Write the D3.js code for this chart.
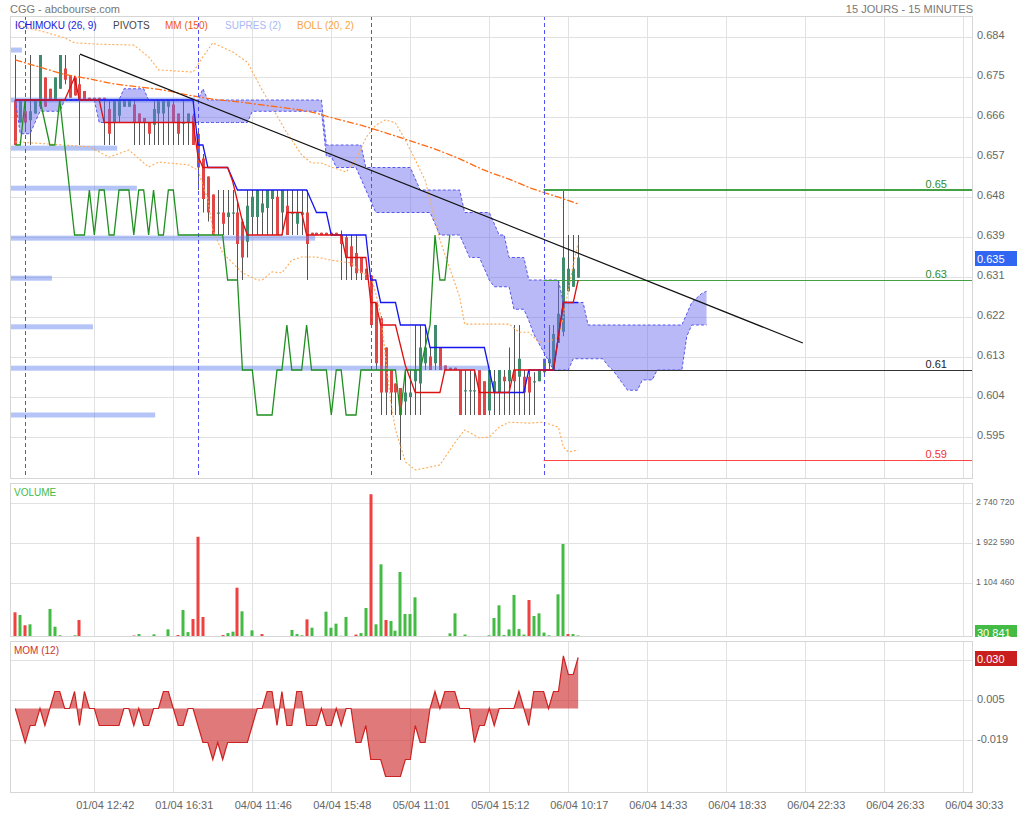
<!DOCTYPE html>
<html><head><meta charset="utf-8">
<script src="https://cdn.jsdelivr.net/npm/d3@7/dist/d3.min.js"></script>
<style>
html,body{margin:0;padding:0;background:#fff;}
svg{display:block;font-family:"Liberation Sans",Arial,Helvetica,sans-serif;}
</style></head><body>
<svg id="chart" width="1017" height="814"></svg>
<script>
// ---------------- DATA ----------------
const opens=[.67,.665,.6675,.6655,.667,.6685,.675,.6725,.67,.6725,
.677,.6755,.675,.6735,.672,.6705,.6705,.6705,.6705,.668,
.665,.6665,.6685,.6685,.669,.667,.666,.665,.6645,.667,
.667,.6685,.669,.667,.665,.665,.6665,.6625,.657,.653,
.649,.645,.645,.644,.645,.645,.643,.6385,.644,.644,
.645,.646,.648,.6485,.645,.6465,.645,.6425,.6445,.645,
.6405,.6405,.6405,.6405,.6405,.6405,.64,.6395,.6375,.636,
.635,.6325,.631,.625,.6215,.615,.61,.607,.606,.603,
.604,.6075,.607,.6115,.613,.6115,.615,.611,.6105,.6105,
.61,.6055,.6055,.6055,.61,.6075,.601,.605,.605,.6085,
.6075,.61,.6085,.6085,.6085,.6075,.6075,.6095,.6115,.61,
.616,.6185,.6275,.6285,.6305];
const highs=[.68,.67,.67,.68,.67,.68,.675,.6725,.675,.68,
.68,.6755,.675,.68,.672,.6705,.6705,.6705,.6705,.67,
.67,.67,.67,.67,.67,.667,.666,.665,.67,.67,
.67,.67,.67,.667,.67,.667,.667,.663,.658,.653,
.649,.65,.65,.65,.65,.6475,.6435,.65,.65,.65,
.65,.65,.65,.65,.65,.65,.65,.65,.65,.65,
.6405,.6405,.6405,.6405,.6405,.6405,.641,.64,.64,.64,
.635,.6325,.631,.625,.622,.615,.61,.607,.606,.61,
.61,.62,.62,.62,.615,.62,.615,.611,.6105,.6105,
.61,.61,.61,.61,.61,.6075,.61,.61,.61,.61,
.615,.62,.62,.61,.61,.6095,.61,.6125,.62,.62,
.63,.65,.64,.64,.64];
const lows=[.66,.665,.663,.66,.667,.668,.6685,.67,.67,.6725,
.6735,.6705,.671,.66,.67,.67,.67,.67,.66,.66,
.66,.665,.6685,.6685,.66,.66,.66,.66,.66,.66,
.66,.66,.66,.66,.66,.66,.66,.65,.645,.643,
.64,.64,.64,.64,.64,.63,.63,.635,.64,.64,
.64,.64,.64,.64,.64,.64,.64,.64,.64,.63,
.64,.64,.64,.64,.64,.64,.63,.63,.63,.63,
.63,.63,.62,.61,.60,.60,.60,.60,.59,.60,
.60,.60,.60,.61,.61,.61,.61,.61,.61,.61,
.60,.60,.60,.60,.60,.60,.60,.60,.60,.60,
.60,.60,.60,.60,.60,.60,.6075,.609,.61,.61,
.616,.6175,.6275,.6285,.6305];
const closes=[.66,.67,.665,.6675,.67,.68,.6685,.67,.675,.68,
.6745,.6705,.671,.67,.67,.67,.67,.67,.67,.6625,
.67,.67,.67,.67,.665,.665,.665,.6625,.668,.67,
.67,.67,.665,.6625,.665,.667,.66,.655,.648,.645,
.64,.645,.6425,.645,.645,.638,.635,.6465,.6485,.65,
.647,.65,.65,.64,.65,.64,.645,.645,.645,.638,
.64,.64,.64,.64,.64,.64,.638,.635,.633,.6315,
.6315,.63,.62,.6115,.605,.605,.605,.605,.60,.605,
.605,.61,.615,.615,.61,.62,.61,.61,.61,.61,
.60,.6055,.6055,.6055,.60,.60,.61,.6075,.61,.6075,
.61,.6075,.6125,.605,.605,.6075,.61,.6125,.6125,.618,
.6225,.635,.6325,.6325,.635];

const volumes=[505000,450000,240000,260000,20000,20000,0,573000,210000,35000,
0,0,35000,348000,5000,5000,5000,5000,5000,5000,
5000,5000,5000,5000,30000,60000,20000,10000,55000,10000,
10000,157000,10000,40000,552000,100000,368000,2050000,409000,0,
0,20000,40000,80000,109000,1008000,525000,20000,136000,0,
60000,0,0,0,20000,0,143000,60000,35000,361000,
190000,20000,20000,518000,190000,273000,25000,409000,20000,50000,
80000,593000,2920000,260000,1487000,348000,327000,129000,1330000,470000,
470000,812000,15000,15000,20000,0,15000,0,75000,484000,
10000,50000,15000,15000,5000,0,35000,389000,648000,40000,
155000,859000,165000,50000,757000,430000,484000,90000,35000,5000,
873000,1902000,60000,60000,30841];
const volSide="duduuuuuuu"+"uuuduuduuu"+"uuuuduuuuu"+"uuuduudddu"+"uuduuduuuu"+"duuuuuuuud"+"uuuuuuuuud"+"uuduuduuuu"+"uuduuuduuu"+"duuduuuuuu"+"uuuuduuuuu"+"uuduu";

const mom=[0,-0.01,-0.02,-0.01,-0.01,0,-0.01,0,0.01,0.01,
0,0,0.01,-0.01,0.01,0,0,-0.01,-0.01,-0.01,
-0.01,-0.01,0,0,-0.01,0,-0.01,-0.01,0,0,
0.01,0.01,0,-0.01,-0.01,0,0,-0.01,-0.02,-0.02,
-0.03,-0.02,-0.03,-0.02,-0.02,-0.02,-0.02,-0.02,-0.01,0,
0,0.01,0.01,-0.01,0.01,-0.01,-0.01,0.01,0.01,-0.01,
-0.01,-0.01,0,-0.01,-0.01,0,-0.01,0,0,-0.02,
-0.02,-0.01,-0.03,-0.03,-0.03,-0.04,-0.04,-0.04,-0.04,-0.03,
-0.03,-0.01,-0.02,-0.02,0,0.01,0,0.01,0.01,0.01,
0,0,0,-0.02,-0.01,-0.01,0,-0.01,0,0,
0,0,0.01,0,-0.01,0.01,0.01,0.01,0,0.01,
0.01,0.031,0.02,0.02,0.03];

const tenkan=[.67,.67,.67,.67,.67,.67,.67,.67,.67,.67,.67,.6725,.675,.67,
.67,.67,.67,.67,
.665,.665,.665,.665,.665,.665,.665,.665,.665,.665,.665,.665,.665,.665,.665,.665,.665,.665,.665,
.6575,.655,.655,.655,.655,.655,.655,.652,.6475,.643,
.64,.64,.64,.64,.64,.64,.64,.64,
.645,.645,.645,.645,
.64,.64,.64,.64,.64,.64,.64,.64,
.635,.635,.635,.635,.635,
.625,.625,.62,.62,.62,.62,.6155,.611,.608,
.605,.605,.605,.605,.605,.605,
.61,.61,.61,.61,.61,.61,.61,
.605,.605,.605,.605,.605,.605,.605,
.61,.61,.61,.61,.61,.61,.61,.61,.61,
.6175,.625,.625,.625,.63];
const kijun=[.67,.67,.67,.67,.67,.67,.67,.67,.67,.67,.67,.67,.67,.67,.67,.67,.67,.67,.67,.67,
.67,.67,.67,.67,.67,.67,.67,.67,.67,.67,.67,.67,.67,.67,.67,.67,.67,
.66,.66,.655,.655,.655,.655,.655,.6525,
.65,.65,.65,.65,.65,.65,.65,.65,.65,.65,.65,.65,.65,.65,.65,
.6475,.645,.645,.645,
.64,.64,.64,.64,.64,.64,.64,.64,
.63,.63,.625,.625,.625,.625,
.62,.62,.62,.62,.62,.62,
.615,.615,.615,.615,.615,.615,.615,.615,.615,.615,.615,.615,
.61,.605,.605,.605,.605,.605,.605,.605,
.61,.61,.61,.61,.61,.61,
.6175,.625,.625,.625,.625];
const chikou=[.66,.66,.67,.67,.67,.67,.665,.66,.66,.67,
.66,.65,.64,.64,.64,.65,.64,.65,.65,.64,
.64,.65,.65,.65,.64,.65,.65,.64,.65,.64,
.64,.65,.65,.64,.64,.64,.64,.64,.64,.64,
.64,.64,.64,.63,.63,.63,.61,.61,.61,.60,
.60,.60,.60,.61,.61,.62,.61,.61,.61,.62,
.61,.61,.61,.61,.60,.61,.61,.60,.60,.60,
.61,.61,.61,.61,.61,.61,.61,.61,.60,.61,
.61,.61,.61,.615,.62,.64,.63,.63,.64];
const senkouA=[.67,.67,.67,.67,.67,.67,.67,.67,.67,.67,.67,.67,.67,.67,.67,.67,.67,.67,.67,.67,.67,.67,
.6725,.6725,.6725,.6725,.6725,
.67,.67,.67,.67,.67,.67,.67,.67,.67,.67,.67,
.6725,
.67,.67,.67,.67,.67,.67,.67,.67,.67,.67,.67,.67,.67,.67,.67,.67,.67,.67,.67,.67,.67,.67,.67,.67,
.66,.66,.66,.66,.66,.66,.66,.66,
.655,.655,.655,.655,.655,.655,.655,.655,.655,.655,
.6525,
.65,.65,.65,.65,.65,.65,.65,.65,.65,
.645,.645,.645,.645,.645,.645,
.6425,.64,.64,
.635,.635,.635,.635,
.63,.63,.63,.63,.63,.63,.63,
.625,.625,.625,.625,.625,
.62,.62,.62,.62,.62,.62,.62,.62,.62,.62,.62,.62,.62,.62,.62,.62,.62,.62,.62,.62,
.6225,.625,.626,.627,.6275];
const senkouB=[.67,
.6625,.6625,.6625,
.665,
.6675,.6675,.6675,.6675,.6675,
.67,.67,.67,.67,.67,.67,.67,
.665,.665,.665,.665,.665,.665,.665,.665,.665,.665,.665,.665,.665,.665,.665,.665,.665,.665,.665,.665,.665,.665,.665,.665,.665,.665,.665,.665,.665,.665,.665,
.6675,.6675,.6675,.6675,.6675,.6675,.6675,.6675,.6675,.6675,.6675,.6675,.6675,.6675,.6675,
.6575,.6575,
.655,.655,.655,.655,.655,
.6525,.65,.6475,
.645,.645,.645,.645,.645,.645,.645,.645,.645,.645,.645,.645,
.6425,
.64,.64,.64,.64,.64,
.6375,.635,.635,.635,.6325,.63,
.6285,.6285,.6285,.6285,
.6235,.6235,.6235,
.621,.618,.616,.614,.612,
.61,.61,.61,.61,
.6125,.6125,.6125,.6125,.6125,.6125,.6125,
.611,.61,.6085,.607,
.6055,.6055,.6055,
.6078,.6078,.6078,
.61,.61,.61,.61,.61,.61,
.6175,.62,.62,.62,.62];

const bollUpper=[[0,.6867],[1,.6864],[6,.6851],[10,.6838],[12,.6827],[17,.6824],[24,.6822],[27,.6796],[29,.6767],[36,.6762],[38,.6796],[40,.6827],[44,.6807],[47,.6784],[50,.6722],[52,.6684],[55,.6627],[58,.6578],[60,.656],[62,.656],[64,.6551],[67,.654],[69,.6567],[71,.6616],[73,.6644],[75,.6656],[77,.6649],[79,.6611],[81,.6567],[83,.6522],[85,.6433],[86,.6389],[90,.6262],[91,.6202],[100,.6202],[102,.6184],[104,.6184],[106,.6162],[108,.6164],[110,.6171],[111,.6218],[112,.6278],[113,.6333],[114,.6382]];
const bollLower=[[0,.6607],[7,.6602],[15,.6596],[19,.6573],[23,.6589],[27,.6551],[29,.6562],[35,.6556],[37,.6544],[39,.6478],[40,.6411],[42,.636],[46,.6316],[49,.63],[50,.63],[52,.6318],[54,.6316],[56,.6344],[58,.6351],[61,.6351],[64,.6344],[68,.6338],[70,.6318],[72,.6307],[73,.6271],[74,.6222],[76,.6033],[77,.5967],[79,.5896],[81,.5878],[83,.5882],[86,.5889],[89,.5938],[91,.5967],[94,.5949],[96,.5951],[98,.5973],[100,.5984],[104,.5982],[107,.5984],[110,.5973],[111,.5929],[112,.5918],[114,.5922]];
const mm150=[[0,.6789],[5,.6773],[10,.6757],[15,.6747],[20,.6736],[25,.6729],[30,.6722],[35,.6711],[40,.6702],[45,.6696],[50,.6689],[55,.6682],[60,.6673],[65,.6658],[70,.6644],[75,.6627],[80,.6609],[85,.6591],[90,.6569],[95,.6544],[100,.6524],[105,.6502],[110,.6484],[114,.6469]];

const supresPrice=[.6811,.67,.6593,.6504,.6393,.6304,.6196,.6104,.60];
const supresLen=[2.4,37.5,21.7,25.7,61.8,8.5,16.8,97.2,29.4];

const pivotLevels=[0.65,0.63,0.61,0.59];
const pivotLabels=["0.65","0.63","0.61","0.59"];
const pivotStart=107;
const trendLine=[[13.1,.6802],[159.5,.616]];
const daySep=[2,37,72,107];

const priceTicks=[0.684,0.67511,0.66622,0.65733,0.64844,0.63956,0.63067,0.62178,0.61289,0.604,0.59511];
const priceTickLabels=["0.684","0.675","0.666","0.657","0.648","0.639","0.631","0.622","0.613","0.604","0.595"];
const volTicks=[1104460,1922590,2740720];
const volTickLabels=["1 104 460","1 922 590","2 740 720"];
const momTicks=[0.0285,0.005,-0.0185];
const momTickLabels=["0.029","0.005","-0.019"];
const xTickIdx=[16,32,48,64,80,96,112,128,144,160,176,192];
const xTickLabels=["01/04 12:42","01/04 16:31","04/04 11:46","04/04 15:48","05/04 11:01","05/04 15:12","06/04 10:17","06/04 14:33","06/04 18:33","06/04 22:33","06/04 26:33","06/04 30:33"];
const lastPrice=0.635, lastVol=30841, lastMom=0.030;

// ---------------- DRAW ----------------
const svg=d3.select("#chart");
const PL=10, PR=973;
const panels=[{top:16,bot:479},{top:483,bot:637},{top:641,bot:793}];
const x=d3.scaleLinear().domain([0,16]).range([15.3,94.3]);
const y=d3.scaleLinear().domain([0.684,0.59]).range([37,460]);
const yv=d3.scaleLinear().domain([0,1104460]).range([637,583]);
const ym=d3.scaleLinear().domain([0,0.005]).range([708.5,700]);
const px=v=>Math.round(v)+0.5;

const defs=svg.append("defs");
panels.forEach((p,k)=>defs.append("clipPath").attr("id","clip"+k).append("rect")
  .attr("x",PL).attr("y",p.top).attr("width",PR-PL).attr("height",p.bot-p.top));
defs.append("clipPath").attr("id","clipVolBox").append("rect").attr("x",970).attr("y",483).attr("width",60).attr("height",154);

// titles
svg.append("text").attr("x",10).attr("y",13).attr("font-size",11).attr("fill","#777").text("CGG - abcbourse.com");
svg.append("text").attr("x",973).attr("y",13).attr("font-size",11).attr("fill","#777").attr("text-anchor","end").text("15 JOURS - 15 MINUTES");

// grids
const hTicks=[priceTicks.map(y),volTicks.map(yv),momTicks.map(ym)];
panels.forEach((p,k)=>{
  const g=svg.append("g").attr("stroke","#e1e1e1").attr("stroke-width",1);
  xTickIdx.forEach(i=>g.append("line").attr("x1",px(x(i))).attr("x2",px(x(i))).attr("y1",p.top).attr("y2",p.bot));
  hTicks[k].forEach(v=>g.append("line").attr("x1",PL).attr("x2",PR).attr("y1",px(v)).attr("y2",px(v)));
});

// axis labels
const axg=svg.append("g").attr("font-size",11).attr("fill","#666");
priceTicks.forEach((t,k)=>axg.append("text").attr("x",977).attr("y",Math.round(y(t))+2).text(priceTickLabels[k]));
volTicks.forEach((t,k)=>axg.append("text").attr("x",976).attr("y",Math.round(yv(t))+2)
  .attr("font-size",8.6).text(volTickLabels[k]));
momTicks.forEach((t,k)=>axg.append("text").attr("x",977).attr("y",Math.round(ym(t))+3).text(momTickLabels[k]));
xTickIdx.forEach((i,k)=>axg.append("text").attr("x",x(i)+11).attr("y",809).attr("text-anchor","middle").text(xTickLabels[k]));

// ---- MAIN PANEL ----
const main=svg.append("g").attr("clip-path","url(#clip0)");
// candles
const cg=main.append("g");
closes.forEach((c,i)=>{
  const o=opens[i], cx=Math.round(x(i));
  const up=c>=o, col=up?"#3e8b6d":"#e04646";
  cg.append("line").attr("x1",cx+0.5).attr("x2",cx+0.5).attr("y1",y(highs[i])).attr("y2",y(lows[i])).attr("stroke","#555").attr("stroke-width",1);
  const t=Math.min(y(o),y(c)), b=Math.max(y(o),y(c));
  cg.append("rect").attr("x",cx-1).attr("y",t).attr("width",3).attr("height",Math.max(1.2,b-t)).attr("fill",col);
});
// cloud
const cloudArea=d3.area().x((d,i)=>x(i)).y0((d,i)=>y(senkouB[i])).y1(d=>y(d));
main.append("path").datum(senkouA).attr("d",cloudArea).attr("fill","#6c6cf0").attr("fill-opacity",0.48);
const ln=d3.line().x((d,i)=>x(i)).y(d=>y(d));
[senkouA,senkouB].forEach(s=>main.append("path").datum(s).attr("d",ln).attr("fill","none").attr("stroke","#5656ee").attr("stroke-width",1).attr("stroke-dasharray","3,2"));
// supres bars
supresPrice.forEach((p,k)=>main.append("rect").attr("x",PL).attr("y",y(p)-2.5).attr("width",x(supresLen[k])-x(0)).attr("height",5).attr("fill","#5a7cee").attr("fill-opacity",0.45));
// bollinger
const lnP=d3.line().x(d=>x(d[0])).y(d=>y(d[1]));
[bollUpper,bollLower].forEach(s=>main.append("path").datum(s).attr("d",lnP).attr("fill","none").attr("stroke","#ffaa55").attr("stroke-width",1.1).attr("stroke-dasharray","2,2"));
// MM150
main.append("path").datum(mm150).attr("d",lnP.curve(d3.curveMonotoneX)).attr("fill","none").attr("stroke","#ff6a14").attr("stroke-width",1.3).attr("stroke-dasharray","7,2,2,2");
// day separators
daySep.forEach(i=>main.append("line").attr("x1",px(x(i))).attr("x2",px(x(i))).attr("y1",16).attr("y2",479).attr("stroke","#5050f5").attr("stroke-dasharray","4,3"));
// pivots
const pivCol=["#44a044","#44a044","#333333","#ff4444"], pivTxt=["#2e8b2e","#2e8b2e","#222222","#ee3333"], pivW=[2,1,1,1];
pivotLevels.forEach((p,k)=>{
  main.append("line").attr("x1",x(pivotStart)).attr("x2",PR).attr("y1",Math.round(y(p))+(pivW[k]===2?0:0.5)).attr("y2",Math.round(y(p))+(pivW[k]===2?0:0.5)).attr("stroke",pivCol[k]).attr("stroke-width",pivW[k]);
  main.append("text").attr("x",947).attr("y",y(p)-2.5).attr("text-anchor","end").attr("font-size",11).attr("fill",pivTxt[k]).text(pivotLabels[k]);
});
// ichimoku lines
main.append("path").datum(chikou).attr("d",ln).attr("fill","none").attr("stroke","#1f8f1f").attr("stroke-width",1.3);
main.append("path").datum(kijun).attr("d",ln).attr("fill","none").attr("stroke","#1515ee").attr("stroke-width",1.3);
main.append("path").datum(tenkan).attr("d",ln).attr("fill","none").attr("stroke","#dd1111").attr("stroke-width",1.3);
// trend line
main.append("path").datum(trendLine).attr("d",d3.line().x(d=>x(d[0])).y(d=>y(d[1]))).attr("fill","none").attr("stroke","#111").attr("stroke-width",1.2);

// legend
const leg=[["ICHIMOKU (26, 9)","#1b1bd6",15],["PIVOTS","#444",113],["MM (150)","#ee5a10",165],["SUPRES (2)","#a9b9f7",225],["BOLL (20, 2)","#f5a545",297]];
leg.forEach(l=>svg.append("text").attr("x",l[2]).attr("y",29).attr("font-size",10).attr("fill",l[1]).text(l[0]));

// ---- VOLUME ----
const vg=svg.append("g").attr("clip-path","url(#clip1)");
volumes.forEach((v,i)=>{
  if(v<=0) return;
  const cx=Math.round(x(i));
  const h=Math.max(1,637-yv(v));
  vg.append("rect").attr("x",cx-1.5).attr("y",637-h).attr("width",3).attr("height",h)
    .attr("fill",volSide[i]==="u"?"#44bb44":"#f04040").attr("fill-opacity",v<12000?0.4:1);
});
svg.append("text").attr("x",14).attr("y",496).attr("font-size",10).attr("fill","#44bb44").text("VOLUME");

// ---- MOM ----
const mg=svg.append("g").attr("clip-path","url(#clip2)");
mg.append("path").datum(mom).attr("d",d3.area().x((d,i)=>x(i)).y0(ym(0)).y1(d=>ym(d))).attr("fill","#cc2222").attr("fill-opacity",0.6);
mg.append("path").datum(mom).attr("d",d3.line().x((d,i)=>x(i)).y(d=>ym(d))).attr("fill","none").attr("stroke","#cc2222").attr("stroke-width",1.2);
svg.append("text").attr("x",14).attr("y",654).attr("font-size",10).attr("fill","#cc3333").text("MOM (12)");

// panel borders
panels.forEach(p=>svg.append("rect").attr("x",PL+0.5).attr("y",p.top+0.5).attr("width",PR-PL-1).attr("height",p.bot-p.top-1).attr("fill","none").attr("stroke","#d6d6d6"));

// current value boxes
function box(g,yy,bg,label){
  g.append("rect").attr("x",975).attr("y",Math.round(yy)-7).attr("width",50).attr("height",15).attr("fill",bg);
  g.append("text").attr("x",977).attr("y",Math.round(yy)+4.5).attr("font-size",11).attr("fill","#fff").text(label);
}
box(svg,y(lastPrice),"#3066f2",d3.format(".3f")(lastPrice));
box(svg.append("g").attr("clip-path","url(#clipVolBox)"),yv(lastVol)-3,"#44bb44",d3.format(",")(lastVol).replace(/,/g," "));
box(svg,ym(lastMom),"#c81e1e",d3.format(".3f")(lastMom));
</script></body></html>
